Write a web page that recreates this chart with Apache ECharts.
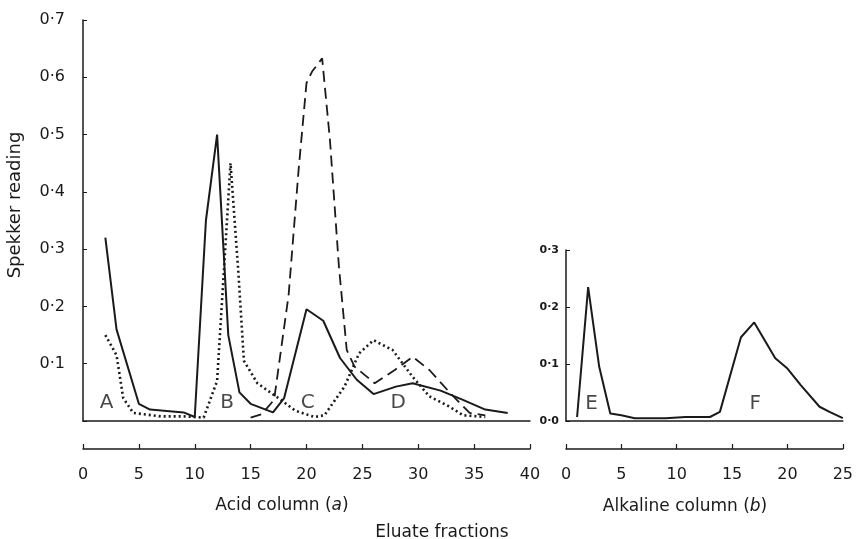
<!DOCTYPE html>
<html>
<head>
<meta charset="utf-8">
<script src="https://cdn.jsdelivr.net/npm/echarts@6/dist/echarts.min.js"></script>
<style>
    html, body { margin: 0; padding: 0; background: #fff; }
    #chart { width: 856px; height: 539px; }
</style>
</head>
<body>
<div id="chart"></div>
<script>
// 酸性柱 (a) 三条曲线: [洗脱份数, Spekker 读数]
const acidSolid = [[2,0.32],[3,0.16],[5,0.03],[6,0.02],[9,0.015],[10,0.007],[11,0.35],[12,0.50],[13,0.15],[14,0.05],[15,0.03],[17,0.015],[18,0.04],[20,0.195],[21.5,0.175],[23,0.11],[24.5,0.072],[26,0.047],[28,0.06],[29.5,0.066],[32,0.053],[34,0.037],[36,0.02],[38,0.014]];
const acidDotted = [[2,0.15],[3,0.115],[3.6,0.04],[4.5,0.014],[7,0.008],[9,0.008],[10.8,0.006],[12,0.07],[12.6,0.26],[13.2,0.45],[13.9,0.26],[14.4,0.105],[15.6,0.066],[17.7,0.037],[19,0.018],[20.7,0.007],[21.6,0.01],[23.4,0.06],[24.7,0.118],[26,0.141],[27.7,0.124],[29.5,0.077],[31,0.043],[32.8,0.025],[34,0.01],[36,0.007]];
const acidDashed = [[15,0.006],[16,0.012],[17.1,0.037],[18.4,0.22],[19.3,0.44],[20,0.59],[20.5,0.61],[21.4,0.633],[22.1,0.49],[22.9,0.27],[23.6,0.124],[24.3,0.095],[26.1,0.066],[27.9,0.089],[29.5,0.112],[31,0.089],[32.8,0.05],[34.6,0.014],[36,0.01]];
// 碱性柱 (b)
const alkSolid = [[1,0.007],[2,0.235],[3,0.095],[4,0.013],[5,0.01],[6.2,0.005],[9,0.005],[10.8,0.007],[13,0.007],[13.9,0.016],[15.8,0.147],[17,0.173],[18.9,0.11],[20,0.092],[21.2,0.063],[22.9,0.025],[23.8,0.016],[25,0.005]];
// 峰标记
const acidLetters = [['A',2.1,0.031],['B',12.9,0.031],['C',20.1,0.031],['D',28.2,0.031]];
const alkLetters = [['E',2.3,0.031],['F',17.1,0.031]];

const FONT = 'DejaVu Sans';
const INK = '#1a1a1a';

function dotLabel(v) {
    return v.toFixed(1).replace('.', '·');
}

function bottomAxis(gridIndex, max) {
    return {
        gridIndex: gridIndex, type: 'value', min: 0, max: max, interval: 5,
        position: 'bottom', offset: 28,
        axisLine: { show: true, onZero: false, lineStyle: { color: INK, width: 1.5 } },
        axisTick: { show: true, inside: true, length: 5, lineStyle: { color: INK, width: 1.2 } },
        axisLabel: { show: true, margin: 18, fontSize: 16, fontFamily: FONT, color: INK },
        splitLine: { show: false }
    };
}

function baseAxis(gridIndex, max) {
    return {
        gridIndex: gridIndex, type: 'value', min: 0, max: max,
        position: 'bottom', offset: 0,
        axisLine: { show: true, onZero: false, lineStyle: { color: INK, width: 1.5 } },
        axisTick: { show: false }, axisLabel: { show: false }, splitLine: { show: false }
    };
}

function lineSeries(data, xi, yi, type, width) {
    return {
        type: 'line', data: data, xAxisIndex: xi, yAxisIndex: yi,
        symbol: 'none', smooth: false,
        lineStyle: { color: INK, width: width, type: type }
    };
}

function letterSeries(list, xi, yi) {
    return {
        type: 'scatter', xAxisIndex: xi, yAxisIndex: yi,
        symbol: 'circle', symbolSize: 1, itemStyle: { color: 'rgba(0,0,0,0)' },
        data: list.map(p => ({ name: p[0], value: [p[1], p[2]] })),
        label: { show: true, position: 'inside', formatter: '{b}', fontSize: 20, fontFamily: FONT, color: INK }
    };
}

const textStyle = (text, size) => ({
    text: text, fontSize: size, fontFamily: FONT, fill: INK,
    textAlign: 'center', textVerticalAlign: 'middle',
    rich: {
        n: { fontSize: size, fontFamily: FONT, fill: INK },
        i: { fontSize: size, fontFamily: FONT, fill: INK, fontStyle: 'italic' }
    }
});

const chart = echarts.init(document.getElementById('chart'));
chart.setOption({
    animation: false,
    backgroundColor: '#fff',
    grid: [
        { left: 83, top: 20, width: 447, height: 401 },
        { left: 566, top: 250, width: 279, height: 171 }
    ],
    xAxis: [bottomAxis(0, 40), baseAxis(0, 40), bottomAxis(1, 25), baseAxis(1, 25)],
    yAxis: [
        {
            gridIndex: 0, type: 'value', min: 0, max: 0.7, interval: 0.1,
            axisLine: { show: true, lineStyle: { color: INK, width: 1.5 } },
            axisTick: { show: true, inside: true, length: 4, lineStyle: { color: INK } },
            axisLabel: { margin: 18, fontSize: 16, fontFamily: FONT, color: INK,
                formatter: v => v === 0 ? '' : dotLabel(v) },
            splitLine: { show: false }
        },
        {
            gridIndex: 1, type: 'value', min: 0, max: 0.3, interval: 0.1,
            axisLine: { show: true, lineStyle: { color: INK, width: 1.5 } },
            axisTick: { show: true, inside: true, length: 4, lineStyle: { color: INK } },
            axisLabel: { margin: 7, fontSize: 11, fontWeight: 'bold', fontFamily: FONT, color: INK,
                formatter: v => dotLabel(v) },
            splitLine: { show: false }
        }
    ],
    graphic: [
        { type: 'text', x: 15, y: 205, rotation: Math.PI / 2, style: textStyle('Spekker reading', 18) },
        { type: 'text', x: 282, y: 506, style: textStyle('{n|Acid column (}{i|a}{n|)}', 17) },
        { type: 'text', x: 685, y: 507, style: textStyle('{n|Alkaline column (}{i|b}{n|)}', 17) },
        { type: 'text', x: 442, y: 533, style: textStyle('Eluate fractions', 17) }
    ],
    series: [
        lineSeries(acidSolid, 0, 0, 'solid', 2),
        lineSeries(acidDotted, 0, 0, [2, 3], 2.6),
        lineSeries(acidDashed, 0, 0, [11, 6], 1.8),
        lineSeries(alkSolid, 2, 1, 'solid', 2),
        letterSeries(acidLetters, 0, 0),
        letterSeries(alkLetters, 2, 1)
    ]
});
</script>
</body>
</html>
